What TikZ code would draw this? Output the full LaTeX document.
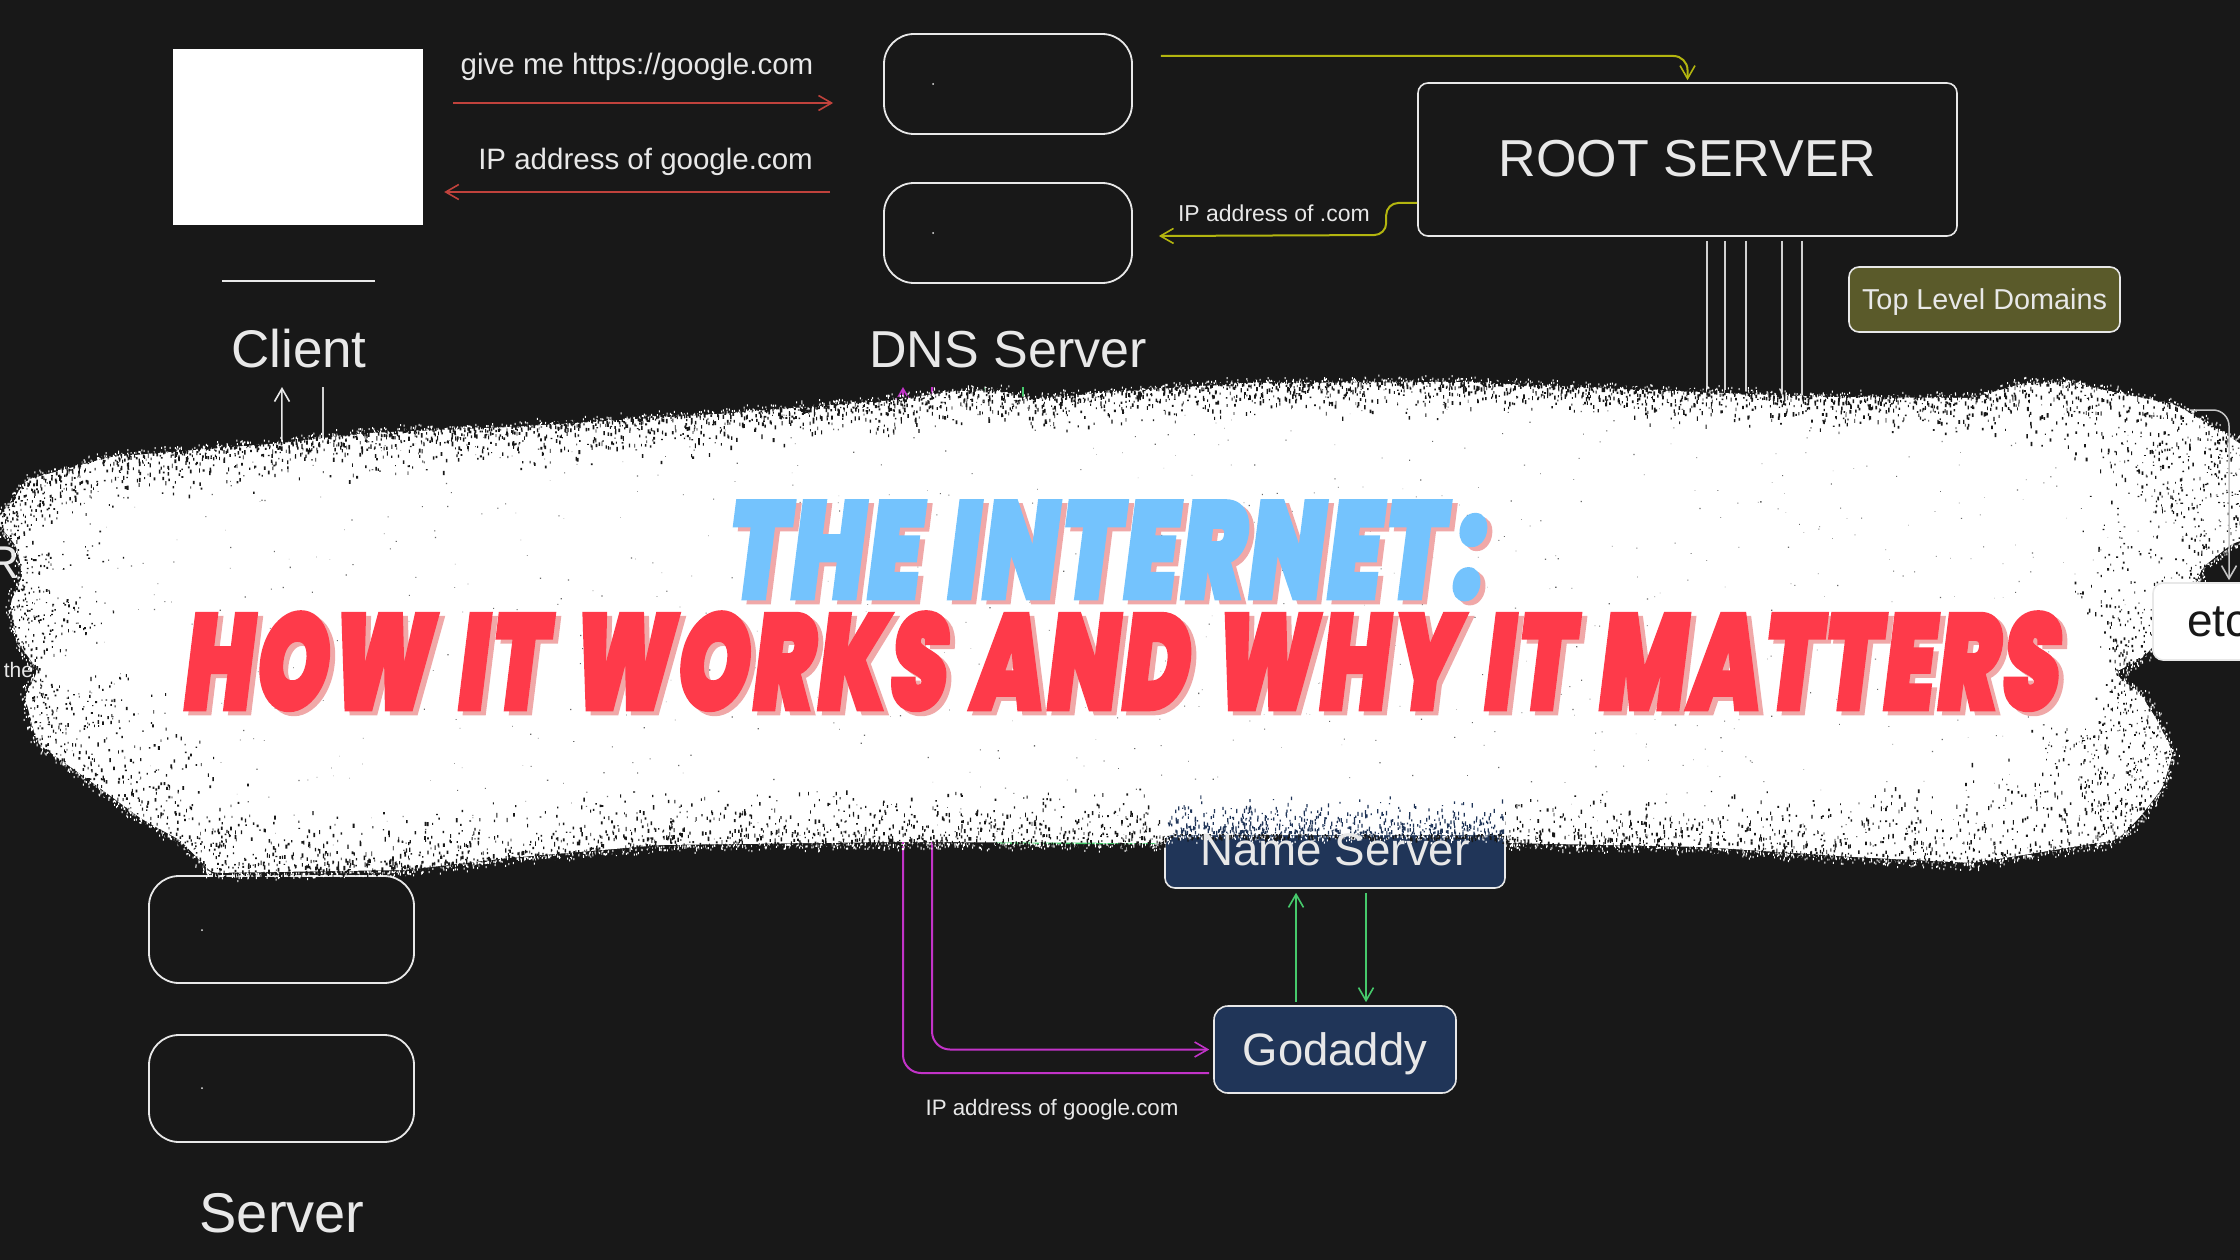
\documentclass[tikz,border=0pt]{standalone}
\usepackage{fontspec}
\usepackage{graphicx}
\usetikzlibrary{arrows.meta,calc}
\setmainfont{Liberation Sans}
\newfontfamily\ttlfont[FakeSlant=0.18,FakeBold=3,LetterSpace=3.5,WordSpace=1.35]{Poppins Black}
\definecolor{bgc}{HTML}{181818}
\definecolor{ink}{HTML}{E8E8E8}
\definecolor{redline}{HTML}{C0423C}
\definecolor{yellowline}{HTML}{B3B50F}
\definecolor{greenline}{HTML}{46C96B}
\definecolor{magline}{HTML}{C233C8}
\definecolor{navybox}{HTML}{203558}
\definecolor{olivebox}{HTML}{5A5A2A}
\definecolor{skyttl}{HTML}{74C3FD}
\definecolor{redttl}{HTML}{FE3A4A}
\definecolor{shadowttl}{HTML}{F0A8A8}
\tikzset{
  lbl/.style={text=ink,inner sep=0pt,font=\fontsize{#1}{#1}\selectfont},
  softbox/.style={draw=ink,line width=1.8pt,fill=bgc,rounded corners=30pt,inner sep=0pt},
  tagbox/.style={draw=ink,line width=1.6pt,rounded corners=10pt,inner sep=0pt,text=ink},
  conn/.style={line width=2pt,-{Straight Barb[length=13pt,width=15pt,line width=1.6pt]}},
  plain/.style={line width=1.5pt,draw=ink!90!black}
}
\def\brushpts{26/480/50,110/457/60,282/443/50,367/433/50,513/427/50,733/413/50,895/400/40,954/391/40,1005/391/40,1027/400/40,1100/393/40,1245/383/40,1464/382/40,1645/390/30,1827/397/40,1973/398/40,2024/383/50,2067/382/70,2118/393/90,2176/405/120,2230/437/150,2245/447/150,2245/540/170,2233/543/150,2203/567/150,2197/580/120,2153/647/120,2140/660/120,2113/673/120,2140/693/130,2157/720/140,2173/753/170,2163/787/170,2140/817/170,2117/840/170,1973/863/120,1853/857/90,1702/847/70,1505/843/60,1505/835/50,1165/835/50,1165/843/60,900/842/60,661/845/60,508/858/60,406/870/70,212/873/70,180/840/100,143/820/110,93/783/130,37/743/130,25/697/120,38/670/120,18/643/120,10/603/120,23/577/120,17/547/120,-5/520/120,7/510/100}
\begin{document}
\begin{tikzpicture}[x=1pt,y=-1pt]
\clip (0,0) rectangle (2240,1260);
\fill[bgc] (0,0) rectangle (2240,1260);
\pgfmathsetseed{4242}

% Client
\node[fill=white,draw=none,minimum width=250pt,minimum height=176pt,inner sep=0pt] (client) at (298,137) {};
\node[fill=ink,minimum width=153pt,minimum height=2.5pt,inner sep=0pt] (clientbar) at (298,281) {};
\node[lbl=53] (clientlbl) at (299,349) {Client};
\node[lbl=29.5] (ask) at (637,67) {give me https://google.com};
\node[lbl=29.5,anchor=east] (reply) at (813,162) {IP address of google.com};

% DNS
\node[softbox,minimum width=248pt,minimum height=100pt] (dnsa) at (1008,84) {};
\node[softbox,minimum width=248pt,minimum height=100pt] (dnsb) at (1008,233) {};
\fill[ink] (933,84) circle (1pt) (933,233) circle (1pt);
\node[lbl=52] (dnslbl) at (1008,350) {DNS Server};

% Root
\node[tagbox,fill=bgc,minimum width=539pt,minimum height=153pt,text height=38pt,text depth=3pt,font=\fontsize{52}{52}\selectfont] (root) at (1687.5,159.5) {ROOT SERVER};
\node[lbl=23,anchor=east] (comlbl) at (1370,213) {IP address of .com};
\node[tagbox,fill=olivebox,minimum width=271pt,minimum height=65pt,text height=23pt,text depth=3pt,font=\fontsize{28.8}{29}\selectfont] (tld) at (1984.5,299.5) {Top Level Domains};

% Lower diagram
\node[softbox,minimum width=265pt,minimum height=107pt] (srva) at (281.5,929.5) {};
\node[softbox,minimum width=265pt,minimum height=107pt] (srvb) at (281.5,1088.5) {};
\fill[ink] (202,930) circle (1pt) (202,1088) circle (1pt);
\node[lbl=56] (srvlbl) at (282,1213) {Server};
\node[tagbox,fill=navybox,minimum width=340pt,minimum height=108pt] (ns) at (1335,834) {};
\node[tagbox,fill=navybox,minimum width=242pt,minimum height=87pt,rounded corners=14pt,text height=37pt,text depth=6pt,font=\fontsize{45.4}{46}\selectfont] (god) at (1335,1049.5) {Godaddy};
\node[lbl=22.3] (godip) at (1052,1110) {IP address of google.com};

% Partial labels at the left edge
\node[lbl=46,anchor=base east] (cutr) at (20,578) {R};
\node[lbl=21] (cutthe) at (18.5,670) {the};

% Free ends that disappear at the top of the brush
\coordinate (mtip) at (903,387);
\coordinate (mtop) at (932,387);
\coordinate (gtip) at (985,387);
\coordinate (gtop) at (1023,387);
\coordinate (gend) at (1023,430);
\coordinate (wtip) at (282,387);
\coordinate (wtop) at (323,387);

% Connectors
\draw[conn,redline] ([xshift=30pt,yshift=34pt]client.east) -- ([xshift=-50pt,yshift=-19pt]dnsa.west);
\draw[conn,redline] ([xshift=-53pt]dnsb.west |- 0,192) -- ([xshift=21pt,yshift=-55pt]client.east);
\draw[conn,yellowline,rounded corners=14pt] ([xshift=28pt,yshift=28pt]dnsa.east) -| ([yshift=2pt]root.north);
\draw[conn,yellowline,rounded corners=12pt] ([yshift=-43.5pt]root.west) -- ++(-31,0) -- ++(0,32) -- ([xshift=26pt,yshift=-3pt]dnsb.east);
\foreach \s in {19.5,37.5,58.5,94.5,114.5}
  \draw[plain] ([xshift=\s pt,yshift=-4pt]root.south) -- ++(0,190);
\draw[conn,ink,line width=1.5pt] ([yshift=6pt]srva.north) -- (wtip);
\draw[plain] ([xshift=41.5pt,yshift=6pt]srva.north) -- (wtop);
\draw[conn,magline,rounded corners=18pt] ([xshift=-4pt,yshift=-23.5pt]god.west) -| (mtip);
\draw[conn,magline,rounded corners=18pt] (mtop) |- ([xshift=-4pt]god.west);
\draw[conn,greenline,rounded corners=18pt] ([xshift=-4pt,yshift=-9pt]ns.west) -| (gtip);
\draw[line width=2pt,greenline] (gtop) -- (gend);
\draw[conn,greenline] ([xshift=-39pt,yshift=3pt]god.north) -- ([xshift=-39pt,yshift=-4pt]ns.south);
\draw[conn,greenline] ([xshift=31pt,yshift=-4pt]ns.south) -- ([xshift=31pt,yshift=3pt]god.north);

% Brush body
\fill[white,rounded corners=6pt] (7,510) \foreach \x/\y/\w in \brushpts {-- (\x,\y)} -- cycle;

% Brush edge: white fringe and dark flecks, segment by segment
\foreach \x/\y/\w [remember=\x as \lx (initially 7), remember=\y as \ly (initially 510)] in \brushpts {
  \pgfmathsetmacro\dx{\x-\lx}
  \pgfmathsetmacro\dy{\y-\ly}
  \pgfmathsetmacro\len{max(veclen(\dx,\dy),1)}
  \pgfmathsetmacro\nx{-\dy/\len}
  \pgfmathsetmacro\ny{\dx/\len}
  \pgfmathsetmacro\horiz{abs(\dx)/\len}
  \pgfmathtruncatemacro\nw{max(1,\len*0.9)}
  \pgfmathtruncatemacro\nb{max(1,\len*1.6)}
  \begin{pgfscope}
  \pgfsetfillcolor{white}
  \foreach \i in {1,...,\nw} {
    \pgfmathsetmacro\t{rnd}
    \pgfmathsetmacro\d{-8*rnd*rnd}
    \pgfmathsetmacro\px{\lx+\t*\dx+\d*\nx}
    \pgfmathsetmacro\py{\ly+\t*\dy+\d*\ny}
    \pgfpathrectangle{\pgfqpoint{\px pt}{-\py pt}}{\pgfqpoint{1pt}{-2pt}}
  }
  \pgfusepath{fill}
  \end{pgfscope}
  \begin{pgfscope}
  \pgfsetfillcolor{bgc}
  \foreach \i in {1,...,\nb} {
    \pgfmathsetmacro\t{rnd}
    \pgfmathsetmacro\d{\w*rnd*rnd-3}
    \pgfmathsetmacro\px{\lx+\t*\dx+\d*\nx}
    \pgfmathsetmacro\py{\ly+\t*\dy+\d*\ny}
    \pgfmathsetmacro\sw{0.7+1.2*rnd}
    \pgfmathsetmacro\sh{0.7+1.2*rnd+\horiz*3*rnd}
    \pgfpathrectangle{\pgfqpoint{\px pt}{-\py pt}}{\pgfqpoint{\sw pt}{-\sh pt}}
  }
  \pgfusepath{fill}
  \end{pgfscope}
}

% Sparse flecks inside the brush
\begin{scope}
\clip[rounded corners=6pt] (7,510) \foreach \x/\y/\w in \brushpts {-- (\x,\y)} -- cycle;
\begin{pgfscope}
\pgfsetfillcolor{bgc!65!white}
\foreach \i in {1,...,1000} {
  \pgfmathsetmacro\px{60+2080*rnd}
  \pgfmathsetmacro\py{400+450*rnd}
  \pgfmathsetmacro\sw{0.5+0.8*rnd}
  \pgfpathrectangle{\pgfqpoint{\px pt}{-\py pt}}{\pgfqpoint{\sw pt}{-\sw pt}}
}
\pgfusepath{fill}
\end{pgfscope}
\end{scope}

% Where the brush crosses the Name Server box its holes show navy
\fill[white] (1165,780) rectangle (1505,834);
\begin{pgfscope}
\pgfsetfillcolor{navybox}
\foreach \i in {1,...,520} {
  \pgfmathsetmacro\px{1167+336*rnd}
  \pgfmathsetmacro\py{835-38*rnd*rnd}
  \pgfmathsetmacro\sh{1+3.5*rnd}
  \pgfpathrectangle{\pgfqpoint{\px pt}{-\py pt}}{\pgfqpoint{1.2pt}{\sh pt}}
}
\pgfusepath{fill}
\end{pgfscope}
\node[tagbox,draw=none,font=\fontsize{45.7}{46}\selectfont,anchor=base] (nslbl) at (1335,865) {Name Server};

% Items above the brush
\node[tagbox,draw=ink,fill=white,minimum width=152pt,minimum height=77pt,text=bgc,text width=84pt,align=left,inner xsep=34pt,font=\fontsize{46}{46}\selectfont] (etc) at (2229,621.5) {etc};
\coordinate (etcfrom) at (2190,410);
\draw[conn,draw=ink!85!black,line width=1.5pt,rounded corners=16pt] (etcfrom) -| ([yshift=2pt]etc.north);

% Title
\node[inner sep=0pt,anchor=north west,text=shadowttl] (ttlashadow) at (729,505) {\resizebox{756pt}{97pt}{\ttlfont THE INTERNET\kern 1pt:}};
\node[inner sep=0pt,anchor=north west,text=skyttl] (ttla) at (724,501) {\resizebox{756pt}{97pt}{\ttlfont THE INTERNET\kern 1pt:}};
\node[inner sep=0pt,anchor=north west,text=shadowttl] (ttlbshadow) at (185,616) {\resizebox{1875pt}{97pt}{\ttlfont HOW IT WORKS AND WHY IT MATTERS}};
\node[inner sep=0pt,anchor=north west,text=redttl] (ttlb) at (180,612) {\resizebox{1875pt}{97pt}{\ttlfont HOW IT WORKS AND WHY IT MATTERS}};
\end{tikzpicture}
\end{document}
